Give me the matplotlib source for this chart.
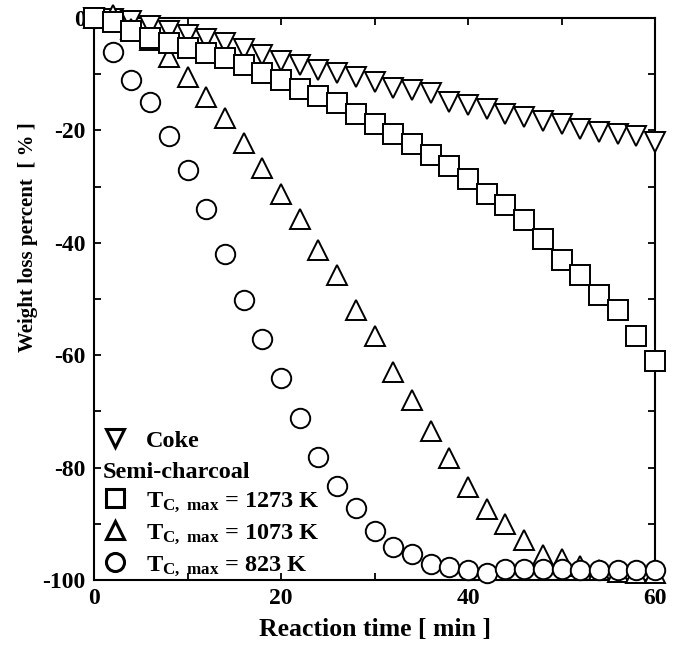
import matplotlib
matplotlib.use("Agg")
import matplotlib.pyplot as plt
from matplotlib.lines import Line2D
from matplotlib.ticker import MultipleLocator

plt.rcParams['font.family'] = ['Liberation Serif', 'DejaVu Serif']
plt.rcParams['font.weight'] = 'bold'
plt.rcParams['axes.unicode_minus'] = False
plt.rcParams['mathtext.fontset'] = 'custom'
plt.rcParams['mathtext.rm'] = 'Liberation Serif:bold'
plt.rcParams['mathtext.bf'] = 'Liberation Serif:bold'
plt.rcParams['mathtext.it'] = 'Liberation Serif:bold'

time = list(range(0, 62, 2))

coke = [0, -0.2, -0.5, -1.5, -2.4, -3.1, -3.8, -4.4, -5.5, -6.6, -7.7,
        -8.4, -9.2, -9.8, -10.5, -11.3, -12.5, -12.8, -13.4, -15.0, -15.5,
        -16.2, -17.0, -17.7, -18.4, -18.8, -19.8, -20.2, -20.6, -21.0, -22.0]

sc_1273 = [0, -0.8, -2.3, -3.6, -4.4, -5.3, -6.2, -7.2, -8.4, -9.8, -11.1,
           -12.6, -13.9, -15.2, -17.0, -18.8, -20.6, -22.5, -24.3, -26.4, -28.7,
           -31.4, -33.2, -35.9, -39.4, -43.1, -45.7, -49.3, -52.0, -56.5, -61.0]

sc_1073 = [0, 0.6, -2.0, -4.0, -6.9, -10.5, -14.1, -17.8, -22.2, -26.7, -31.3,
           -35.7, -41.3, -45.8, -52.0, -56.6, -63.0, -67.9, -73.4, -78.3, -83.4,
           -87.3, -90.1, -92.9, -95.6, -96.3, -97.5, -98.3, -98.6, -98.8, -98.8]

sc_823 = [0, -6.0, -11.0, -15.0, -21.0, -27.0, -34.0, -42.0, -50.2, -57.1, -64.1,
          -71.1, -78.2, -83.3, -87.2, -91.2, -94.1, -95.4, -97.2, -97.6, -98.2,
          -98.8, -98.1, -98.1, -98.1, -98.1, -98.2, -98.2, -98.2, -98.2, -98.2]

labels = ["Coke",
          r"T$_{\rm C,\ max}$ = 1273 K",
          r"T$_{\rm C,\ max}$ = 1073 K",
          r"T$_{\rm C,\ max}$ = 823 K"]
group_title = "Semi-charcoal"

fig = plt.figure(figsize=(6.77, 6.52), dpi=100)
ax = fig.add_axes([0.1389, 0.1104, 0.9675 - 0.1389, 0.9724 - 0.1104])

ms = 14
mew = 1.4
common = dict(linestyle='none', markerfacecolor='white', markeredgecolor='black',
              markersize=ms, markeredgewidth=mew, clip_on=False)
h_coke, = ax.plot(time, coke, marker='v', zorder=3, **common)
h_1073, = ax.plot(time, sc_1073, marker='^', zorder=4, **common)
h_823, = ax.plot(time, sc_823, marker='o', zorder=5, **common)
h_1273, = ax.plot(time, sc_1273, marker='s', zorder=6, **common)

ax.set_xlim(0, 60)
ax.set_ylim(-100, 0)
ax.xaxis.set_major_locator(MultipleLocator(20))
ax.xaxis.set_minor_locator(MultipleLocator(10))
ax.yaxis.set_major_locator(MultipleLocator(20))
ax.yaxis.set_minor_locator(MultipleLocator(10))
ax.tick_params(which='both', direction='in', top=True, right=True,
               width=1.3, labelsize=17, colors='black')
ax.tick_params(which='major', length=5)
ax.tick_params(axis='x', which='major', pad=6)
ax.tick_params(axis='y', which='major', pad=6)
ax.tick_params(which='minor', length=5)
for lab in ax.get_xticklabels() + ax.get_yticklabels():
    lab.set_fontweight('bold')
for s in ax.spines.values():
    s.set_linewidth(1.5)

ax.set_xlabel("Reaction time [ min ]", fontsize=18.5, fontweight='bold', labelpad=6)
ax.set_ylabel("Weight loss percent  [ % ]", fontsize=15, fontweight='bold')
ax.yaxis.set_label_coords(-0.100, 0.61)

fs_leg = 17.5
lkw = dict(frameon=False, fontsize=fs_leg, handlelength=1.0, handletextpad=0.75,
           borderpad=0, borderaxespad=0, labelspacing=0.3)

def leg_handle(marker):
    return Line2D([], [], linestyle='none', marker=marker, markerfacecolor='white',
                  markeredgecolor='black', markersize=13, markeredgewidth=2.2)

leg1 = ax.legend([leg_handle('v')], [labels[0]], loc='center left',
                 bbox_to_anchor=(0.016, 0.248), **lkw)
ax.add_artist(leg1)
leg2 = ax.legend([leg_handle('s'), leg_handle('^'), leg_handle('o')], labels[1:],
                 loc='lower left', bbox_to_anchor=(0.016, 0.004),
                 title=group_title, alignment='left',
                 title_fontproperties={'size': fs_leg, 'weight': 'bold'}, **lkw)

fig.savefig("out.png", dpi=100)
